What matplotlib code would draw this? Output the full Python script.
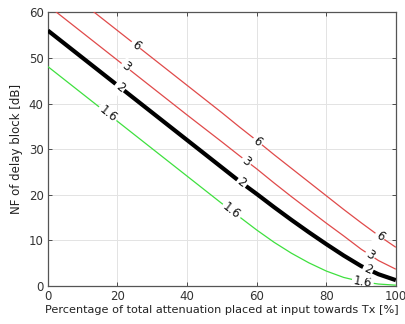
import numpy as np
import matplotlib
matplotlib.use("Agg")
import matplotlib.pyplot as plt

# Data
x_pct = [0, 10, 20, 30, 40, 50, 55, 60, 65, 70, 75, 80, 85, 90, 95, 100]

nf_1p6 = [48.1, 42.1, 36.1, 30.1, 24.1, 18.1, 15.2, 12.3, 9.6, 7.2, 5.1, 3.3, 1.9, 1.0, 0.45, 0.2]
nf_2 = [56.0, 50.0, 44.0, 38.0, 32.0, 26.0, 23.0, 20.2, 17.3, 14.5, 11.8, 9.2, 6.7, 4.4, 2.6, 1.3]
nf_3 = [61.5, 55.5, 49.5, 43.5, 37.5, 31.6, 28.6, 25.7, 22.6, 19.6, 16.7, 13.8, 11.0, 8.1, 5.6, 3.7]
nf_6 = [68.0, 62.0, 56.0, 50.0, 44.0, 38.0, 34.9, 31.9, 28.8, 25.8, 22.8, 19.8, 16.8, 13.9, 11.1, 8.5]

levels = ["1.6", "2", "3", "6"]
label_x = {
    "6": [25.3, 60.3, 95.4],
    "3": [22.4, 57.1, 92.6],
    "2": [20.7, 55.7, 92.0],
    "1.6": [17.2, 52.8, 90.5],
}

xticks = [0, 20, 40, 60, 80, 100]
yticks = [0, 10, 20, 30, 40, 50, 60]

fig = plt.figure(figsize=(4.06, 3.24), dpi=100)
ax = fig.add_axes([0.118, 0.117, 0.857, 0.845])

series = {"1.6": nf_1p6, "2": nf_2, "3": nf_3, "6": nf_6}
styles = {
    "1.6": dict(color="#3fe03f", lw=0.9),
    "2": dict(color="black", lw=3.0),
    "3": dict(color="#e04a4a", lw=0.9),
    "6": dict(color="#e04a4a", lw=0.9),
}

ax.set_xlim(0, 100)
ax.set_ylim(0, 60)

for lev in levels:
    ax.plot(x_pct, series[lev], solid_capstyle="butt", zorder=3, **styles[lev])

fig.canvas.draw()
for lev in levels:
    xs = np.array(x_pct, float)
    ys = np.array(series[lev], float)
    for lx in label_x[lev]:
        ly = np.interp(lx, xs, ys)
        p0 = ax.transData.transform((lx - 1.5, np.interp(lx - 1.5, xs, ys)))
        p1 = ax.transData.transform((lx + 1.5, np.interp(lx + 1.5, xs, ys)))
        ang = np.degrees(np.arctan2(p1[1] - p0[1], p1[0] - p0[0]))
        ax.text(lx, ly, lev, rotation=ang, rotation_mode="anchor",
                ha="center", va="center", fontsize=8.5, color="#111111",
                zorder=4, clip_on=True,
                bbox=dict(facecolor="white", edgecolor="none", pad=1.2))

ax.set_xticks(xticks)
ax.set_yticks(yticks)
ax.grid(True, color="#e3e3e3", lw=0.7)
ax.set_axisbelow(True)
ax.tick_params(direction="in", length=3, width=0.6, top=True, right=True,
               labelsize=8.5, colors="#333333", pad=3)
for s in ax.spines.values():
    s.set_color("#555555")
    s.set_linewidth(0.9)

ax.set_xlabel("Percentage of total attenuation placed at input towards Tx [%]",
              fontsize=8.1, color="#222222", labelpad=1)
ax.set_ylabel("NF of delay block [dB]", fontsize=8.5, color="#222222", labelpad=4)

fig.savefig("out.png", dpi=100)
